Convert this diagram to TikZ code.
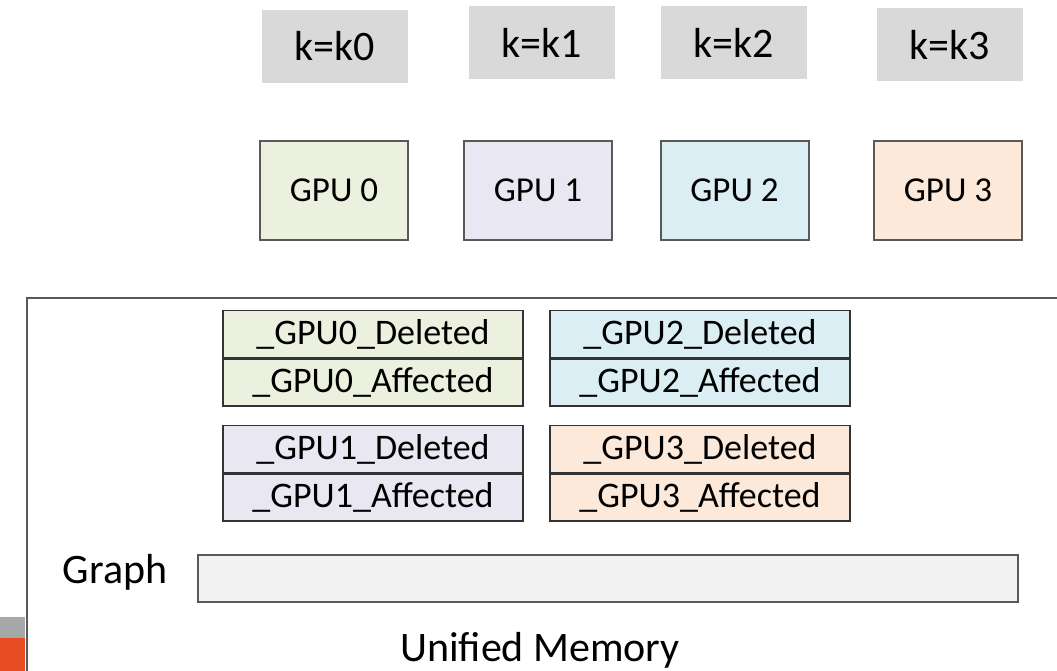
\documentclass[tikz,border=0pt]{standalone}
\usepackage{fontspec}
\setmainfont{Carlito}
\definecolor{kgray}{HTML}{D9D9D9}
\definecolor{gpuA}{HTML}{EBF1DE}
\definecolor{gpuB}{HTML}{E9E7F1}
\definecolor{gpuC}{HTML}{DBEEF4}
\definecolor{gpuD}{HTML}{FDE9D9}
\definecolor{bord}{HTML}{595959}
\definecolor{graphfill}{HTML}{F2F2F2}
\definecolor{stripegray}{HTML}{A5A8A8}
\definecolor{stripeorange}{HTML}{E84C22}
\begin{document}
\begin{tikzpicture}[x=1pt,y=-1pt,
  kbox/.style={fill=kgray,draw=none,minimum width=146pt,minimum height=73pt,inner sep=0pt,font=\fontsize{42}{46}\selectfont},
  gpubox/.style={draw=bord,line width=2pt,minimum width=148pt,minimum height=99pt,inner sep=0pt,font=\fontsize{35}{40}\selectfont},
  membox/.style={draw=black!80,line width=1.5pt,minimum width=300pt,minimum height=47pt,inner sep=0pt,font=\fontsize{36}{40}\selectfont},
  biglabel/.style={font=\fontsize{42}{46}\selectfont,inner sep=0pt}]
\useasboundingbox (0,0) rectangle (1057,671);
\clip (0,0) rectangle (1057,671);
% k labels
\node[kbox] (k0) at (335,46.5) {k=k0};
\node[kbox] (k1) at (541.5,43) {k=k1};
\node[kbox] (k2) at (733.5,43) {k=k2};
\node[kbox] (k3) at (949.5,45) {k=k3};
% GPUs
\node[gpubox,fill=gpuA] (g0) at (334,190.5) {GPU 0};
\node[gpubox,fill=gpuB] (g1) at (538,190.5) {GPU 1};
\node[gpubox,fill=gpuC] (g2) at (734.5,190.5) {GPU 2};
\node[gpubox,fill=gpuD] (g3) at (948,190.5) {GPU 3};
% unified memory frame
\draw[bord,line width=2pt] (27,700) -- (27,298) -- (1058,298) -- (1058,700);
% memory boxes
\node[membox,fill=gpuA] (d0) at (373,334) {\_GPU0\_Deleted};
\node[membox,fill=gpuA,anchor=north] (a0) at (d0.south) {\_GPU0\_Affected};
\node[membox,fill=gpuC] (d2) at (700,334) {\_GPU2\_Deleted};
\node[membox,fill=gpuC,anchor=north] (a2) at (d2.south) {\_GPU2\_Affected};
\node[membox,fill=gpuB] (d1) at (373,449) {\_GPU1\_Deleted};
\node[membox,fill=gpuB,anchor=north] (a1) at (d1.south) {\_GPU1\_Affected};
\node[membox,fill=gpuD] (d3) at (700,449) {\_GPU3\_Deleted};
\node[membox,fill=gpuD,anchor=north] (a3) at (d3.south) {\_GPU3\_Affected};
% graph
\node[biglabel] (glabel) at (115,572) {Graph};
\node[draw=bord,line width=2pt,fill=graphfill,minimum width=820pt,minimum height=47pt,inner sep=0pt] (gbar) at (608,578.5) {};
\node[biglabel] (um) at (540,650) {Unified Memory};
% stripes
\fill[stripegray] (0,617) rectangle (25,638);
\fill[stripeorange] (0,638) rectangle (25,671);
\end{tikzpicture}
\end{document}
